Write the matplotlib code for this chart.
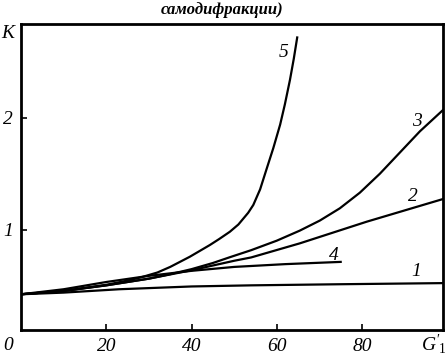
import matplotlib
matplotlib.use('Agg')
import matplotlib.pyplot as plt

plt.rcParams['font.family'] = ['Liberation Serif', 'DejaVu Serif']
plt.rcParams['mathtext.fontset'] = 'custom'
plt.rcParams['mathtext.rm'] = 'Liberation Serif'
plt.rcParams['mathtext.it'] = 'Liberation Serif:italic'

# кривые K(G1'), значения
x1 = [0, 10, 23, 40, 54, 75, 99]
k1 = [0.42, 0.435, 0.465, 0.49, 0.50, 0.51, 0.52]

x2 = [0, 10, 20, 30, 40, 50, 54, 65.4, 81.1, 99]
k2 = [0.42, 0.45, 0.50, 0.56, 0.635, 0.72, 0.75, 0.876, 1.07, 1.273]

x3 = [0, 10, 20, 30, 35, 40, 45, 49, 54, 60, 65.4, 70.1, 74.8, 79.5, 84.2, 88.9, 93.6, 99]
k3 = [0.42, 0.45, 0.50, 0.56, 0.60, 0.645, 0.70, 0.752, 0.815, 0.90, 0.99, 1.08, 1.19,
      1.33, 1.50, 1.69, 1.88, 2.07]

x4 = [0, 10, 20, 30, 40, 50, 62, 75]
k4 = [0.42, 0.465, 0.53, 0.585, 0.63, 0.665, 0.69, 0.71]

x5 = [0, 10, 20, 24, 28, 32, 35, 39.6, 44.3, 46.5, 49.0, 51, 53.3, 54.5, 56.1, 57.6, 59.2,
      60.8, 61.9, 63.1, 64.0, 64.8]
k5 = [0.42, 0.45, 0.505, 0.535, 0.57, 0.615, 0.665, 0.756, 0.861, 0.915, 0.98, 1.045, 1.15,
      1.22, 1.36, 1.54, 1.73, 1.94, 2.12, 2.34, 2.53, 2.72]

curves = [(x1, k1, '1', 92.8, 0.622), (x2, k2, '2', 91.9, 1.293), (x3, k3, '3', 92.8, 1.965),
          (x4, k4, '4', 73.3, 0.771), (x5, k5, '5', 61.5, 2.589)]

fig = plt.figure(figsize=(4.47, 3.57), dpi=100)
ax = fig.add_axes([0.047, 0.0756, 0.944, 0.857])

for xs, ks, name, lx, ly in curves:
    ax.plot(xs, ks, color='black', lw=1.6)
    ax.text(lx, ly, name, fontsize=14, style='italic', ha='center', va='center')

ax.set_xlim(0, 99)
ax.set_ylim(0.1, 2.84)
ax.set_xticks([20, 40, 60, 80])
ax.set_xticklabels(['20', '40', '60', '80'], fontsize=14, style='italic')
ax.set_yticks([1, 2])
ax.set_yticklabels(['1', '2'], fontsize=14, style='italic')
ax.tick_params(direction='in', length=4, width=1.2, pad=6)
for s in ax.spines.values():
    s.set_linewidth(2)

fig.text(8 / 447, 1 - 345 / 357, '0', fontsize=14, style='italic', ha='center', va='center')
fig.text(8 / 447, 1 - 33 / 357, 'K', fontsize=14, style='italic', ha='center', va='center')
fig.text(446 / 447, 1 - 344 / 357, r"$G'_{\!1}$", fontsize=14, ha='right', va='center')
fig.text(222 / 447, 1 - 10 / 357, 'самодифракции)', fontsize=12, style='italic',
         weight='bold', ha='center', va='center')

fig.savefig('out.png', dpi=100)
